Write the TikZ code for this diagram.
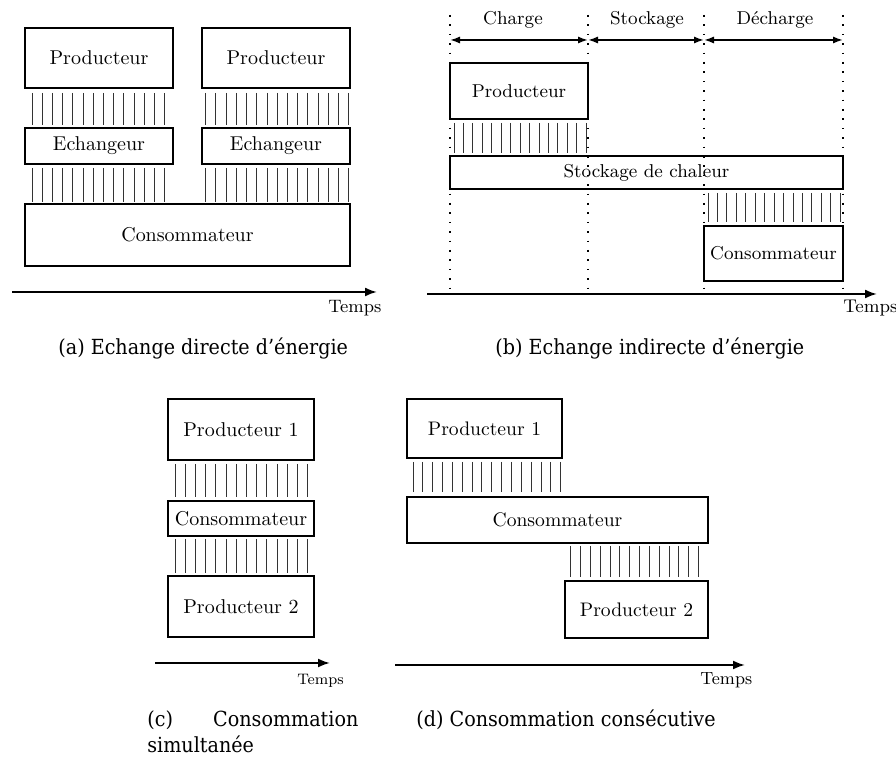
\documentclass[tikz,border=0pt]{standalone}
\usepackage{fontspec}
\usetikzlibrary{arrows.meta,fit}
\newfontfamily\capfont[FakeStretch=0.92]{DejaVu Serif}
\begin{document}
\begin{tikzpicture}[x=0.5pt,y=-0.5pt,
  box/.style={draw, line width=0.9pt, inner sep=0pt},
  fa/.style={font=\fontsize{10}{12}\selectfont},
  fb/.style={font=\fontsize{9.3}{11}\selectfont},
  fd/.style={font=\fontsize{9.8}{12}\selectfont},
  txta/.style={label={[fa]center:#1}},
  txtb/.style={label={[fb]center:#1}},
  txtd/.style={label={[fd]center:#1}},
  hatchline/.style={line width=0.5pt, black!80},
  axis/.style={line width=1pt, -{Latex[length=6pt,width=4.5pt]}},
  period/.style={line width=0.9pt, {Latex[length=5pt,width=3.6pt]}-{Latex[length=5pt,width=3.6pt]}},
  guide/.style={line width=0.8pt, dash pattern=on 0.8pt off 3.9pt},
  timelabel/.style={inner sep=0pt, anchor=base west},
  caption/.style={inner sep=0pt, anchor=base west, font=\capfont\fontsize{10.4}{13}\selectfont}]
\useasboundingbox (0,0) rectangle (896,758);

% ---------- (a) direct exchange ----------
\node[box, fit={(25,28)(173,88)}, txta=Producteur] (aP1) {};
\node[box, fit={(202,28)(350,88)}, txta=Producteur] (aP2) {};
\node[box, fit={(25,128)(173,164)}, txta=Echangeur] (aE1) {};
\node[box, fit={(202,128)(350,164)}, txta=Echangeur] (aE2) {};
\node[box, fit={(25,204)(350,266)}, txta=Consommateur] (aC) {};
\foreach \k in {0,...,13} {
  \draw[hatchline] ({32+10.22*\k},93) -- ({32+10.22*\k},125);
  \draw[hatchline] ({32+10.22*\k},168) -- ({32+10.22*\k},202);
}
\foreach \k in {17,...,31} {
  \draw[hatchline] ({32+10.22*\k},93) -- ({32+10.22*\k},125);
  \draw[hatchline] ({32+10.22*\k},168) -- ({32+10.22*\k},202);
}
\coordinate (aT0) at (12,292);
\coordinate (aT1) at (377,292);
\draw[axis] (aT0) -- (aT1);
\node[timelabel, font=\fontsize{9}{11}\selectfont] (aTemps) at (328,313) {Temps};
\node[caption] (capA) at (58,355) {(a) Echange directe d’énergie};

% ---------- (b) indirect exchange ----------
\foreach \x/\n in {450/g1, 588/g2, 704/g3, 843/g4} {
  \coordinate (\n top) at (\x,15);
  \coordinate (\n bot) at (\x,293);
  \draw[guide] (\n top) -- (\n bot);
  \coordinate (\n) at (\x,40);
}
\draw[period] (g1) -- (g2);
\draw[period] (g2) -- (g3);
\draw[period] (g3) -- (g4);
\node[fb, anchor=base] (lCharge) at (513,25) {Charge};
\node[fb, anchor=base] (lStock) at (647,25) {Stockage};
\node[fb, anchor=base] (lDech) at (775,25) {Décharge};
\node[box, fit={(450,63)(588,119)}, txtb=Producteur] (bP) {};
\node[box, fit={(450,156)(843,189)}, txtb=Stockage de chaleur] (bS) {};
\node[box, fit={(704,226)(843,281)}, txtb=Consommateur] (bC) {};
\foreach \k in {0,...,14} {
  \draw[hatchline] ({454+9.45*\k},123) -- ({454+9.45*\k},153);
  \draw[hatchline] ({708+9.45*\k},193) -- ({708+9.45*\k},222);
}
\coordinate (bT0) at (427,294);
\coordinate (bT1) at (877,294);
\draw[axis] (bT0) -- (bT1);
\node[timelabel, font=\fontsize{9.2}{11}\selectfont] (bTemps) at (843,313) {Temps};
\node[caption] (capB) at (495,355) {(b) Echange indirecte d’énergie};

% ---------- (c) simultaneous consumption ----------
\node[box, fit={(168,399)(314,460)}, txta=Producteur 1] (cP1) {};
\node[box, fit={(168,501)(314,536)}, txta=Consommateur] (cC) {};
\node[box, fit={(168,576)(314,637)}, txta=Producteur 2] (cP2) {};
\foreach \k in {0,...,13} {
  \draw[hatchline] ({175+10.22*\k},464) -- ({175+10.22*\k},497);
  \draw[hatchline] ({175+10.22*\k},539) -- ({175+10.22*\k},573);
}
\coordinate (cT0) at (155,663);
\coordinate (cT1) at (330,663);
\draw[axis] (cT0) -- (cT1);
\node[timelabel, font=\fontsize{7.6}{9}\selectfont] (cTemps) at (297,685) {Temps};
\node[caption] (capC1) at (147,727) {\makebox[105.5pt][s]{(c) Consommation}};
\node[caption] (capC2) at (147,753) {simultanée};

% ---------- (d) consecutive consumption ----------
\node[box, fit={(407,399)(562,458)}, txtd=Producteur 1] (dP1) {};
\node[box, fit={(407,497)(708,543)}, txtd=Consommateur] (dC) {};
\node[box, fit={(565,581)(708,638)}, txtd=Producteur 2] (dP2) {};
\foreach \k in {0,...,15}
  \draw[hatchline] ({413+9.85*\k},462) -- ({413+9.85*\k},492);
\foreach \k in {16,...,29}
  \draw[hatchline] ({413+9.85*\k},546) -- ({413+9.85*\k},577);
\coordinate (dT0) at (395,665);
\coordinate (dT1) at (745,665);
\draw[axis] (dT0) -- (dT1);
\node[timelabel, font=\fontsize{8.8}{10}\selectfont] (dTemps) at (700,685) {Temps};
\node[caption] (capD) at (416,727) {(d) Consommation consécutive};
\end{tikzpicture}
\end{document}
